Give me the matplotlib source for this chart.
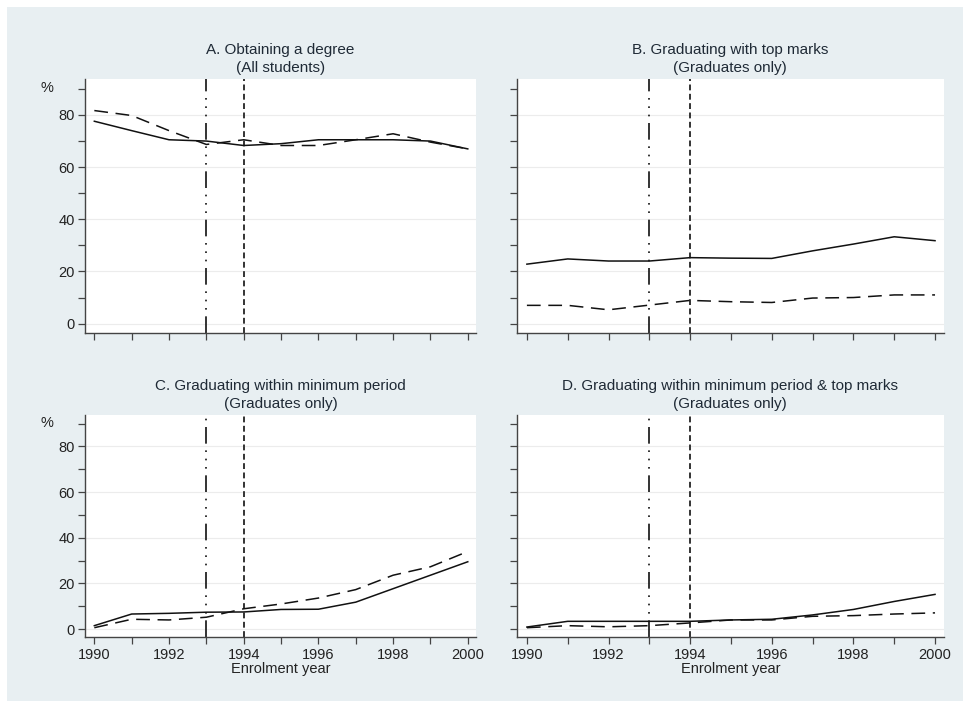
import numpy as np
import matplotlib
matplotlib.use("Agg")
import matplotlib.pyplot as plt
from matplotlib.patches import Rectangle

plt.rcParams["font.family"] = ["Liberation Sans", "DejaVu Sans"]

years = list(range(1990, 2001))

titles = [
    "A. Obtaining a degree\n(All students)",
    "B. Graduating with top marks\n(Graduates only)",
    "C. Graduating within minimum period\n(Graduates only)",
    "D. Graduating within minimum period & top marks\n(Graduates only)",
]

a_solid = [77.6, 74.0, 70.5, 70.0, 68.3, 69.0, 70.5, 70.5, 70.5, 70.0, 67.0]
a_dash = [81.7, 79.8, 74.0, 68.7, 70.5, 68.3, 68.3, 70.5, 72.8, 69.6, 67.0]
b_solid = [22.8, 24.8, 24.0, 24.0, 25.3, 25.1, 25.0, 27.9, 30.5, 33.3, 31.8]
b_dash = [7.0, 7.0, 5.3, 7.1, 8.9, 8.4, 8.1, 9.8, 10.0, 11.0, 11.0]
c_solid = [1.5, 6.6, 6.9, 7.4, 7.5, 8.6, 8.7, 11.8, 17.7, 23.6, 29.5]
c_dash = [0.6, 4.3, 4.0, 5.2, 8.9, 11.0, 13.6, 17.3, 23.6, 27.3, 34.0]
d_solid = [0.9, 3.4, 3.4, 3.4, 3.4, 4.0, 4.3, 6.2, 8.6, 12.1, 15.2]
d_dash = [0.6, 1.5, 1.0, 1.5, 2.7, 4.0, 4.0, 5.6, 5.9, 6.6, 7.1]

solid_series = [a_solid, b_solid, c_solid, d_solid]
dash_series = [a_dash, b_dash, c_dash, d_dash]

vline_1 = 1993
vline_2 = 1994

W, H = 963, 709
BG = "#e8eff2"
TXT = "#1f2a36"

fig = plt.figure(figsize=(W / 100, H / 100), dpi=100, facecolor="white")
fig.patches.append(Rectangle((7 / W, 8 / H), 1 - 7 / W, 1 - 15 / H,
                             transform=fig.transFigure, facecolor=BG,
                             edgecolor="none", zorder=-10))

# panel boxes in pixels: left, top, right, bottom
boxes = [
    (85, 79, 476, 333),
    (516.7, 79, 944, 333),
    (85, 415, 476, 637.3),
    (516.7, 415, 944, 637.3),
]

for i, (l, t, r, b) in enumerate(boxes):
    ax = fig.add_axes([l / W, 1 - b / H, (r - l) / W, (b - t) / H])
    ax.set_facecolor("white")
    ax.set_xlim(1989.75, 2000.22)
    ax.set_ylim(-3.6, 93.8)

    for y in range(0, 81, 20):
        ax.axhline(y, color="#ececec", lw=0.8, zorder=0)

    ax.plot(years, solid_series[i], color="#111111", lw=1.1, zorder=3)
    ax.plot(years, dash_series[i], color="#111111", lw=1.1, zorder=3,
            dashes=(9, 5))

    ax.axvline(vline_1, color="#111111", lw=1.2, zorder=2,
               dashes=(10, 4, 1, 4, 1, 4, 1, 4))
    ax.axvline(vline_2, color="#333333", lw=1.4, zorder=2, dashes=(3, 1.8))

    for s in ["top", "right"]:
        ax.spines[s].set_visible(False)
    for s in ["left", "bottom"]:
        ax.spines[s].set_color("#444444")
        ax.spines[s].set_linewidth(1.0)

    ax.set_yticks(range(0, 81, 20))
    ax.set_yticks(range(10, 91, 20), minor=True)
    ax.set_xticks(range(1990, 2001, 2))
    ax.set_xticks(range(1991, 2000, 2), minor=True)
    ax.tick_params(which="both", direction="out", length=5, width=0.9,
                   color="#444444", labelsize=10.5, labelcolor="#222222",
                   pad=2.5)

    if i % 2 == 1:
        ax.set_yticklabels([])
    else:
        ax.text(-0.098, 0.965, "%", transform=ax.transAxes, ha="center",
                va="center", fontsize=10.5, color="#222222")
    if i < 2:
        ax.set_xticklabels([])
    else:
        ax.set_xlabel("Enrolment year", fontsize=10.5, color="#222222",
                      labelpad=0)

    ax.set_title(titles[i], fontsize=11, color=TXT, linespacing=1.4,
                 pad=5)

fig.savefig("out.png", dpi=100, facecolor="white")
